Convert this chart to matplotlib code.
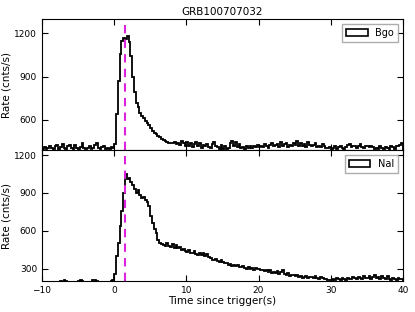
import matplotlib
matplotlib.use('Agg')
import matplotlib.pyplot as plt
from matplotlib.patches import Rectangle
import numpy as np

title = 'GRB100707032'
t_start, t_stop, bin_width = -10.0, 40.0, 0.25
peak_time = 1.5

# BGO light curve, counts/s per 0.25 s bin from -10 s to 40 s
bgo_rate = [
    400, 412, 398, 405, 420, 402, 396, 418, 425, 400, 410, 430, 404, 398, 415, 422, 401, 395, 428, 406,
    399, 412, 436, 405, 397, 401, 420, 398, 407, 425, 440, 402, 396, 411, 418, 400, 405, 399, 408, 402,
    430, 640, 870, 1060, 1150, 1170, 1160, 1185, 1140, 1040, 900, 790, 720, 690, 650, 630, 610, 590, 575, 565,
    545, 520, 510, 505, 490, 480, 470, 462, 455, 448, 442, 440, 436, 445, 430, 438, 425, 450, 440, 418,
    446, 420, 437, 410, 432, 448, 415, 440, 405, 428, 420, 435, 412, 402, 430, 445, 418, 408, 396, 425,
    400, 415, 398, 405, 440, 452, 420, 446, 410, 430, 404, 412, 398, 420, 406, 415, 402, 418, 410, 425,
    408, 420, 412, 430, 418, 405, 426, 440, 415, 422, 435, 410, 445, 420, 432, 438, 412, 428, 418, 440,
    425, 452, 420, 438, 415, 430, 410, 446, 422, 415, 428, 436, 408, 420, 412, 430, 418, 405, 402, 410,
    398, 405, 415, 400, 410, 420, 405, 398, 412, 425, 430, 408, 418, 420, 402, 415, 430, 410, 402, 420,
    415, 408, 420, 412, 398, 402, 396, 418, 404, 400, 410, 405, 400, 418, 412, 398, 420, 415, 425, 440,
]

# NaI light curve, same binning
nai_rate = [
    192, 188, 196, 185, 190, 194, 186, 191, 188, 195, 198, 190, 206, 204, 193, 187, 190, 196, 189, 192,
    203, 208, 198, 191, 187, 193, 195, 190, 210, 206, 197, 192, 188, 194, 191, 196, 189, 193, 198, 205,
    260, 400, 500, 640, 760, 900, 1050, 1010, 1020, 990, 960, 930, 900, 920, 880, 860, 870, 840, 830, 800,
    720, 660, 610, 580, 530, 500, 495, 488, 480, 500, 478, 470, 495, 460, 485, 462, 470, 450, 458, 440,
    430, 445, 425, 420, 438, 415, 410, 420, 405, 425, 400, 418, 395, 380, 370, 365, 372, 360, 355, 368,
    350, 340, 345, 330, 336, 322, 330, 318, 325, 310, 315, 322, 305, 298, 312, 300, 308, 290, 302, 295,
    300, 285, 292, 278, 290, 270, 285, 265, 275, 262, 280, 258, 270, 290, 255, 248, 262, 240, 250, 245,
    238, 245, 232, 240, 228, 236, 242, 225, 235, 230, 222, 238, 228, 218, 232, 225, 215, 220, 210, 205,
    212, 218, 208, 222, 215, 210, 225, 218, 212, 228, 220, 215, 232, 222, 218, 235, 225, 220, 238, 228,
    225, 242, 218, 230, 245, 222, 235, 215, 238, 225, 218, 240, 220, 212, 225, 218, 210, 222, 215, 220,
]

edges = np.arange(t_start, t_stop + bin_width / 2, bin_width)

fig = plt.figure(figsize=(4.15, 3.12), dpi=100)
ax1 = fig.add_axes([0.101, 0.519, 0.870, 0.420])
ax2 = fig.add_axes([0.101, 0.099, 0.870, 0.420], sharex=ax1)

panels = [(ax1, bgo_rate, 'Bgo', (390, 1300), [600, 900, 1200]),
          (ax2, nai_rate, 'NaI', (200, 1240), [300, 600, 900, 1200])]

for ax, rate, name, ylim, yticks in panels:
    ax.stairs(rate, edges, color='black', linewidth=1.3)
    ax.axvline(peak_time, color='#dd22dd', linestyle='--', linewidth=1.5, dashes=(4, 3))
    ax.set_ylim(*ylim)
    ax.set_yticks(yticks)
    ax.set_ylabel('Rate (cnts/s)', fontsize=7.5, labelpad=2)
    ax.tick_params(direction='in', top=True, right=True, labelsize=6.5, length=4)
    handle = Rectangle((0, 0), 1, 1, facecolor='none', edgecolor='black', linewidth=1.2)
    leg = ax.legend([handle], [name], loc='upper right', fontsize=7, fancybox=False,
                    handlelength=2.2, borderaxespad=0.5)
    leg.get_frame().set_edgecolor('#999999')

ax1.set_xlim(t_start, t_stop)
ax1.set_xticks([-10, 0, 10, 20, 30, 40])
ax1.tick_params(labelbottom=False)
ax1.set_title(title, fontsize=7.5, pad=3)
ax2.set_xlabel('Time since trigger(s)', fontsize=7.5, labelpad=1)

fig.savefig('out.png', dpi=100)
